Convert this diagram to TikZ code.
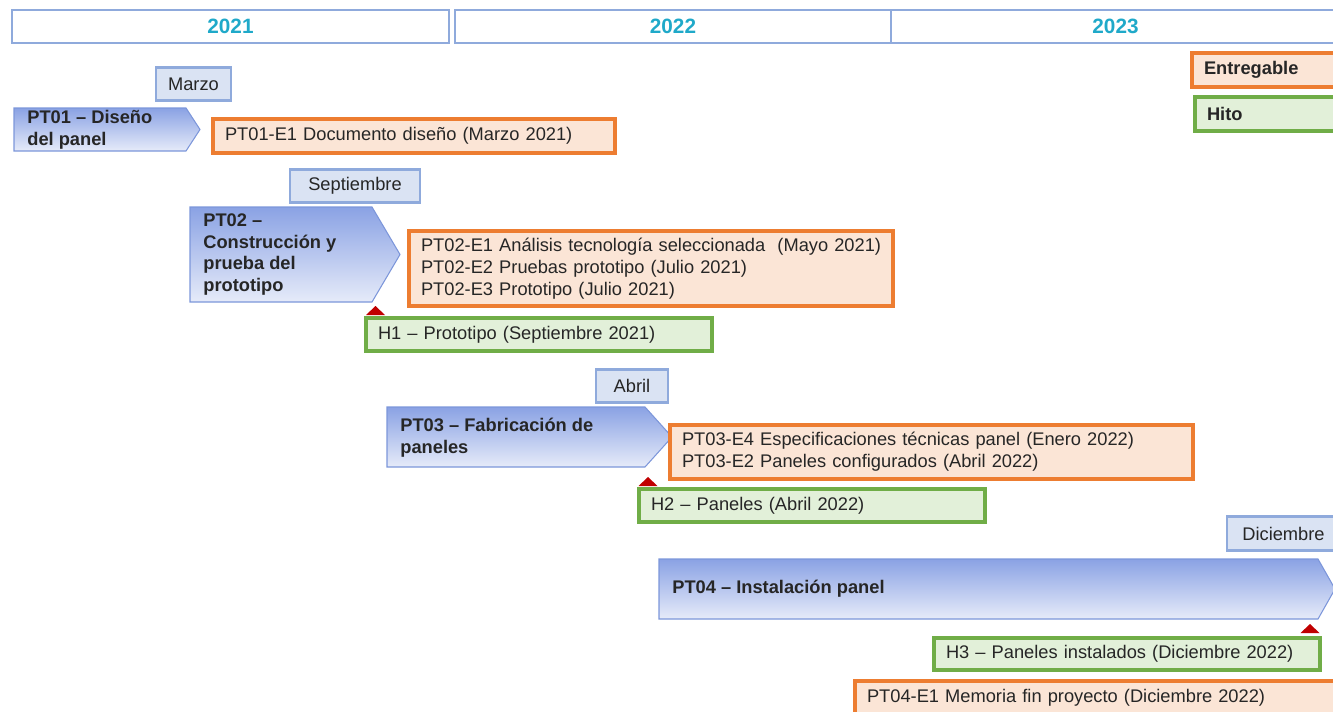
\documentclass[tikz,border=0pt]{standalone}
\usepackage{fontspec}
\setmainfont{Liberation Sans}
\usepackage{tikz}
\usetikzlibrary{positioning}

\definecolor{anio}{HTML}{1FA9C9}
\definecolor{mesline}{HTML}{8FAADC}
\definecolor{mesfill}{HTML}{DAE3F3}
\definecolor{entline}{HTML}{ED7D31}
\definecolor{entfill}{HTML}{FBE5D6}
\definecolor{hitoline}{HTML}{70AD47}
\definecolor{hitofill}{HTML}{E2F0D9}
\definecolor{wpline}{HTML}{7C96DA}
\definecolor{wptop}{HTML}{8AA2E4}
\definecolor{wpbot}{HTML}{E6EBF9}
\definecolor{hitored}{HTML}{C00000}
\definecolor{texto}{HTML}{262626}

\begin{document}
\begin{tikzpicture}[
    x=0.02cm, y=-0.02cm,
    font=\fontsize{10.4}{12.4}\selectfont, text=texto,
    year/.style = {draw=mesline, line width=0.9pt, fill=white, minimum height=0.66cm, inner sep=0pt, font=\fontsize{11.8}{13}\selectfont\bfseries, text=anio},
    mes/.style = {draw=mesline, line width=1.6pt, fill=mesfill, minimum height=0.67cm, inner sep=0pt},
    ent/.style = {draw=entline, line width=1.8pt, fill=entfill, align=left, inner xsep=0.24cm, inner ysep=0pt},
    hito/.style = {draw=hitoline, line width=1.8pt, fill=hitofill, align=left, inner xsep=0.24cm, inner ysep=0pt},
    wp/.style = {draw=wpline, line width=0.6pt, top color=wptop, bottom color=wpbot},
    wptext/.style = {anchor=west, align=left, inner sep=0pt, font=\fontsize{10.4}{12.4}\selectfont\bfseries},
    hitomark/.style = {fill=hitored}
]
\useasboundingbox (0,0) rectangle (1333,711);

% years
\node (y2021) [year, minimum width=8.74cm] at (230.5,26.5) {2021};
\node (y2022) [year, minimum width=8.72cm] at (673,26.5) {2022};
\node (y2023) [year, minimum width=8.98cm] at (1115.5,26.5) {2023};

% legend
\node (leyE) [ent, minimum height=0.68cm, text width=2.5cm, font=\fontsize{10.4}{12.4}\selectfont\bfseries] at (1266.5,70) {Entregable};
\node (leyH) [hito, minimum height=0.68cm, text width=2.44cm, font=\fontsize{10.4}{12.4}\selectfont\bfseries] at (1268,114) {Hito};

% PT01
\node (marzo) [mes, minimum width=1.5cm] at (193.5,84) {Marzo};
\shade[wp] (14,108) -- (186,108) -- (200,129.5) -- (186,151) -- (14,151) -- cycle;
\node (pt01) [wptext] at (27,129.5) {PT01 – Diseño\\del panel};
\node (e01) [ent, minimum height=0.68cm, text width=7.56cm] at (414,136) {PT01-E1 Documento diseño (Marzo 2021)};

% PT02
\node (sept) [mes, minimum width=2.6cm] at (355,186) {Septiembre};
\shade[wp] (190,207) -- (372,207) -- (400,254.5) -- (372,302) -- (190,302) -- cycle;
\node (pt02) [wptext] at (203,254.5) {PT02 –\\Construcción y\\prueba del\\prototipo};
\node (e02) [ent, minimum height=1.5cm, text width=9.2cm] at (651,268.5) {\mbox{PT02-E1 Análisis tecnología seleccionada \ (Mayo 2021)}\\PT02-E2 Pruebas prototipo (Julio 2021)\\PT02-E3 Prototipo (Julio 2021)};
\fill[hitomark] (366,315) -- (375.5,306) -- (385,315) -- cycle;
\node (h1) [hito, minimum height=0.66cm, text width=6.44cm] at (539,334.5) {H1 – Prototipo (Septiembre 2021)};

% PT03
\node (abril) [mes, minimum width=1.44cm] at (632,386) {Abril};
\shade[wp] (387,407) -- (645,407) -- (672,437) -- (645,467) -- (387,467) -- cycle;
\node (pt03) [wptext] at (400,438) {PT03 – Fabricación de\\paneles};
\node (e03) [ent, minimum height=1.08cm, text width=9.98cm] at (931.5,452) {PT03-E4 Especificaciones técnicas panel (Enero 2022)\\PT03-E2 Paneles configurados (Abril 2022)};
\fill[hitomark] (638.5,486) -- (648,477) -- (657.5,486) -- cycle;
\node (h2) [hito, minimum height=0.66cm, text width=6.44cm] at (812,505.5) {H2 – Paneles (Abril 2022)};

% PT04
\node (dic) [mes, minimum width=2.26cm] at (1283.5,533.5) {Diciembre};
\shade[wp] (659,559) -- (1318,559) -- (1335,589) -- (1318,619) -- (659,619) -- cycle;
\node (pt04) [wptext] at (672,589) {PT04 – Instalación panel};
\fill[hitomark] (1300.5,633) -- (1310,624) -- (1319.5,633) -- cycle;
\node (h3) [hito, minimum height=0.64cm, text width=7.24cm] at (1127,654) {H3 – Paneles instalados (Diciembre 2022)};
\node (e04) [ent, minimum height=0.68cm, text width=9.22cm] at (1097.5,698) {PT04-E1 Memoria fin proyecto (Diciembre 2022)};
\end{tikzpicture}
\end{document}
